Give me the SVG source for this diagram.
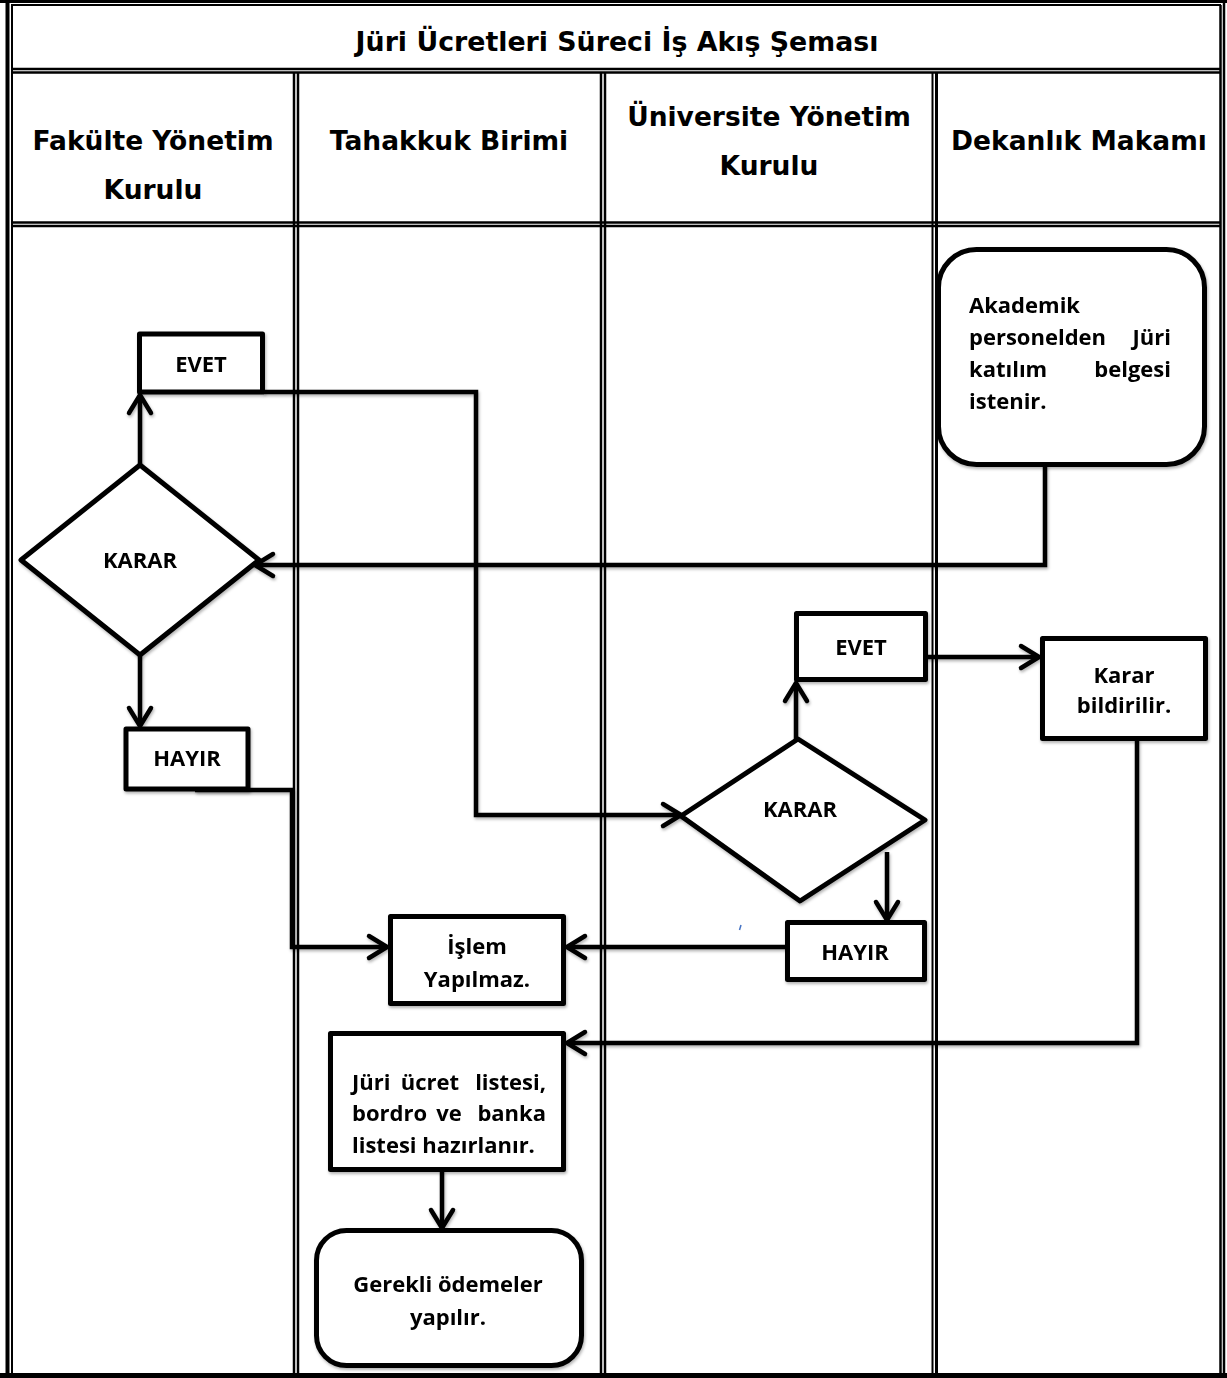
<svg xmlns="http://www.w3.org/2000/svg" width="1227" height="1378" viewBox="0 0 1227 1378">
<style>
.hd{font-family:"DejaVu Sans",Verdana,sans-serif;font-weight:bold;font-size:26.5px;fill:#000;text-anchor:middle}
.ti{font-size:26.8px}
.tx{font-family:"Open Sans","Noto Sans","Liberation Sans",sans-serif;font-weight:700;font-size:22px;fill:#000}
.c{text-anchor:middle}
.e{text-anchor:end}
.shape{fill:#fff;stroke:#000;stroke-width:5;stroke-linejoin:round}
.conn{fill:none;stroke:#000;stroke-width:4.5;stroke-linejoin:miter}
.tb{stroke:#000;fill:none}
</style>
<defs>
<filter id="sh" x="-10%" y="-10%" width="130%" height="130%">
<feDropShadow dx="1" dy="2" stdDeviation="1.5" flood-color="#000" flood-opacity="0.3"/>
</filter>
<marker id="arr" markerUnits="userSpaceOnUse" viewBox="-24 -16 28 32" refX="0" refY="0" markerWidth="28" markerHeight="32" orient="auto">
<path d="M-18,-11 L0,0 L-18,11" fill="none" stroke="#000" stroke-width="4.5" stroke-linecap="round" stroke-linejoin="round"/>
</marker>
</defs>

<g id="table">
<rect x="0" y="0" width="1227" height="1378" fill="#fff"/>
<line class="tb" x1="0" y1="1.5" x2="1227" y2="1.5" stroke-width="3"/>
<line class="tb" x1="11" y1="5" x2="1221" y2="5" stroke-width="2"/>
<line class="tb" x1="7.5" y1="0" x2="7.5" y2="1378" stroke-width="4"/>
<line class="tb" x1="12" y1="5" x2="12" y2="1373" stroke-width="2"/>
<line class="tb" x1="1224" y1="0" x2="1224" y2="1378" stroke-width="2.5"/>
<line class="tb" x1="1220.5" y1="5" x2="1220.5" y2="1373" stroke-width="2.5"/>
<line class="tb" x1="0" y1="1375.5" x2="1227" y2="1375.5" stroke-width="5"/>
<line class="tb" x1="12" y1="69" x2="1221" y2="69" stroke-width="2.5"/>
<line class="tb" x1="12" y1="72.5" x2="1221" y2="72.5" stroke-width="2.5"/>
<line class="tb" x1="12" y1="222.5" x2="1221" y2="222.5" stroke-width="2.5"/>
<line class="tb" x1="12" y1="226" x2="1221" y2="226" stroke-width="2.5"/>
<line class="tb" x1="294" y1="72" x2="294" y2="1373" stroke-width="2.5"/>
<line class="tb" x1="298" y1="72" x2="298" y2="1373" stroke-width="2.5"/>
<line class="tb" x1="601" y1="72" x2="601" y2="1373" stroke-width="2.5"/>
<line class="tb" x1="605" y1="72" x2="605" y2="1373" stroke-width="2.5"/>
<line class="tb" x1="932.5" y1="72" x2="932.5" y2="1373" stroke-width="2"/>
<line class="tb" x1="936.5" y1="72" x2="936.5" y2="1373" stroke-width="3"/>
<text class="hd ti" x="617" y="51">Jüri Ücretleri Süreci İş Akış Şeması</text>
<text class="hd" x="153" y="150">Fakülte Yönetim</text>
<text class="hd" x="153" y="199">Kurulu</text>
<text class="hd" x="449" y="150">Tahakkuk Birimi</text>
<text class="hd" x="769" y="126">Üniversite Yönetim</text>
<text class="hd" x="769" y="175">Kurulu</text>
<text class="hd" x="1079" y="150">Dekanlık Makamı</text>
</g>

<g id="connectors" filter="url(#sh)">
<polyline class="conn" points="1045,465 1045,565 255,565" marker-end="url(#arr)"/>
<polyline class="conn" points="140,465 140,395" marker-end="url(#arr)"/>
<polyline class="conn" points="263,392 476,392 476,815 681,815" marker-end="url(#arr)"/>
<polyline class="conn" points="140,655 140,726" marker-end="url(#arr)"/>
<polyline class="conn" points="195,790 292,790 292,947 387,947" marker-end="url(#arr)"/>
<polyline class="conn" points="796,740 796,683" marker-end="url(#arr)"/>
<polyline class="conn" points="926,657 1039,657" marker-end="url(#arr)"/>
<polyline class="conn" points="887,852 887,920" marker-end="url(#arr)"/>
<polyline class="conn" points="787,947 567,947" marker-end="url(#arr)"/>
<polyline class="conn" points="1137,740 1137,1043 567,1043" marker-end="url(#arr)"/>
<polyline class="conn" points="442,1170 442,1228" marker-end="url(#arr)"/>
</g>

<g id="n-akademik" filter="url(#sh)">
<rect class="shape" x="938.5" y="249.5" width="266" height="215" rx="38"/>
<text class="tx" x="969" y="313">Akademik</text>
<text class="tx" x="969" y="345">personelden</text>
<text class="tx e" x="1171" y="345">Jüri</text>
<text class="tx" x="969" y="377">katılım</text>
<text class="tx e" x="1171" y="377">belgesi</text>
<text class="tx" x="969" y="409">istenir.</text>
</g>

<g id="n-karar1" filter="url(#sh)">
<polygon class="shape" points="140,465 259,560 140,655 21,560"/>
<text class="tx c" x="140" y="568">KARAR</text>
</g>

<g id="n-evet1" filter="url(#sh)">
<rect class="shape" x="139.5" y="334" width="123" height="58"/>
<text class="tx c" x="201" y="372">EVET</text>
</g>

<g id="n-hayir1" filter="url(#sh)">
<rect class="shape" x="126" y="729" width="122" height="60"/>
<text class="tx c" x="187" y="766">HAYIR</text>
</g>

<g id="n-karar2" filter="url(#sh)">
<polygon class="shape" points="798,739 925,820 800,901 681,816"/>
<text class="tx c" x="800" y="817">KARAR</text>
</g>

<g id="n-evet2" filter="url(#sh)">
<rect class="shape" x="796.5" y="613.5" width="129" height="66"/>
<text class="tx c" x="861" y="655">EVET</text>
</g>

<g id="n-karar-bildirilir" filter="url(#sh)">
<rect class="shape" x="1042.5" y="638.5" width="163" height="100"/>
<text class="tx c" x="1124" y="683">Karar</text>
<text class="tx c" x="1124" y="713">bildirilir.</text>
</g>

<g id="n-hayir2" filter="url(#sh)">
<rect class="shape" x="787.5" y="922.5" width="137" height="57"/>
<text class="tx c" x="855" y="960">HAYIR</text>
</g>

<g id="n-islem" filter="url(#sh)">
<rect class="shape" x="390.5" y="916.5" width="173" height="87"/>
<text class="tx c" x="477" y="954">İşlem</text>
<text class="tx c" x="477" y="987">Yapılmaz.</text>
</g>

<g id="n-juri-liste" filter="url(#sh)">
<rect class="shape" x="330.5" y="1033.5" width="233" height="136"/>
<text class="tx" x="352" y="1090">Jüri</text>
<text class="tx c" x="430" y="1090">ücret</text>
<text class="tx e" x="546" y="1090">listesi,</text>
<text class="tx" x="352" y="1121">bordro</text>
<text class="tx c" x="449" y="1121">ve</text>
<text class="tx e" x="546" y="1121">banka</text>
<text class="tx" x="352" y="1153">listesi hazırlanır.</text>
</g>

<g id="n-gerekli" filter="url(#sh)">
<rect class="shape" x="316.5" y="1230.5" width="265" height="135" rx="30"/>
<text class="tx c" x="448" y="1292">Gerekli ödemeler</text>
<text class="tx c" x="448" y="1325">yapılır.</text>
</g>

<line x1="741" y1="925" x2="739.5" y2="930" stroke="#4472c4" stroke-width="1.5"/>
</svg>
